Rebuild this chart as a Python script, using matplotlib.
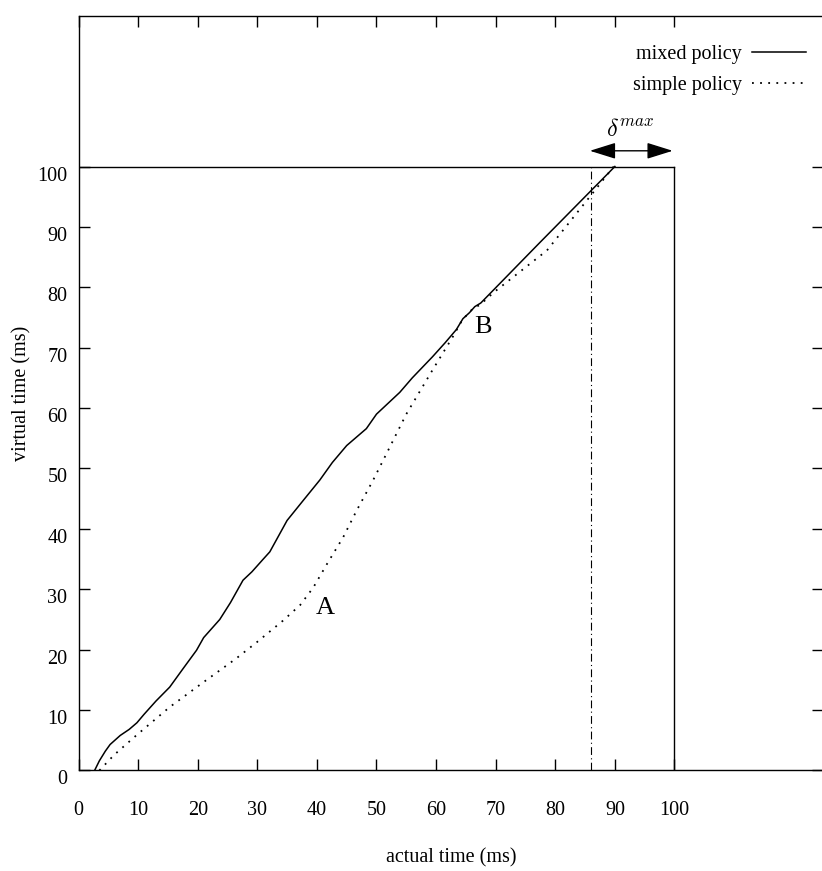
import matplotlib
matplotlib.use("Agg")
import matplotlib.pyplot as plt
from matplotlib.transforms import ScaledTranslation

plt.rcParams['font.family'] = ['Liberation Serif', 'DejaVu Serif']
plt.rcParams['mathtext.fontset'] = 'cm'

# ---- data ----
mixed_x = [2.7, 3.5, 4.5, 5.3, 7.0, 8.5, 9.8, 11.0, 13.0, 15.3, 17.5, 19.8, 21.0,
           23.7, 25.5, 27.6, 29.1, 31.0, 32.1, 35.0, 37.7, 40.5, 42.6, 45.0, 48.3,
           50.0, 53.9, 56.0, 59.4, 61.5, 63.4, 64.5, 65.6, 66.5, 67.5, 77.4, 86.0, 90.0]
mixed_y = [0.0, 1.6, 3.2, 4.3, 5.8, 6.8, 7.9, 9.3, 11.5, 13.8, 16.8, 19.9, 22.0,
           25.0, 27.8, 31.5, 32.9, 35.0, 36.2, 41.4, 44.7, 48.1, 51.0, 53.8, 56.6,
           59.0, 62.6, 65.0, 68.5, 70.8, 73.0, 74.8, 75.8, 76.8, 77.4, 87.4, 96.0, 100.0]

simple_x = [3.5, 6.0, 9.8, 15.3, 20.8, 26.4, 30.0, 34.3, 37.2, 39.4, 41.7, 44.4,
            46.7, 49.4, 51.7, 55.0, 59.4, 62.8, 64.4, 66.0, 67.5, 69.6, 78.6, 86.2, 89.8]
simple_y = [0.0, 2.6, 5.9, 10.5, 14.5, 18.5, 21.3, 24.8, 27.4, 30.3, 34.2, 38.6,
            43.1, 48.0, 52.5, 59.0, 66.3, 71.8, 74.6, 76.3, 77.2, 79.1, 86.1, 95.5, 100.0]

deadline = 100
delta_x = 86
x_ticks = list(range(0, 101, 10))
y_ticks = list(range(0, 101, 10))

# ---- figure ----
fig = plt.figure(figsize=(8.22, 8.71), dpi=100)
ax = fig.add_axes([0.0955, 0.1154, 0.9063, 0.8668])
ax.set_xlim(0, 125)
ax.set_ylim(0, 125)

ax.plot(mixed_x, mixed_y, color='black', lw=1.1, label='mixed policy')
ax.plot(simple_x, simple_y, color='black', lw=1.3, linestyle=(0, (1, 3.5)),
        label='simple policy')

# deadline box
ax.plot([0, deadline], [deadline, deadline], color='black', lw=1.0)
ax.plot([deadline, deadline], [0, deadline], color='black', lw=1.0)
ax.plot([delta_x, delta_x], [0, deadline], color='black', lw=0.8,
        linestyle=(0, (7, 3, 1, 3)))

# delta max arrow
ax.annotate('', xy=(99.7, 102.6), xytext=(85.8, 102.6),
            arrowprops=dict(arrowstyle='<|-|>,head_length=0.8,head_width=0.25',
                            color='black', lw=1.0, mutation_scale=20,
                            shrinkA=0, shrinkB=0))
ax.text(92.6, 106.0, r'$\delta^{max}$', fontsize=17.5, ha='center', va='center')

ax.text(41.4, 26.9, 'A', fontsize=19, ha='center', va='center')
ax.text(67.9, 73.4, 'B', fontsize=19, ha='center', va='center')

ax.set_xticks(x_ticks)
ax.set_yticks(y_ticks)
ax.tick_params(axis='both', direction='in', length=8, width=1.0,
               top=True, right=True, labelsize=14.5)
ax.tick_params(axis='x', pad=22)
ax.tick_params(axis='y', pad=8)
for sp in ax.spines.values():
    sp.set_linewidth(1.0)

off = ScaledTranslation(0, -0.07, fig.dpi_scale_trans)
for lab in ax.get_yticklabels():
    lab.set_transform(lab.get_transform() + off)

ax.set_xlabel('actual time (ms)', fontsize=14.5, labelpad=20)
ax.set_ylabel('virtual time (ms)', fontsize=14.5, labelpad=4.5)

ax.legend(loc='upper right', bbox_to_anchor=(0.9765, 0.961), frameon=False,
          markerfirst=False, fontsize=14.5, handlelength=2.7, handletextpad=0.5,
          borderpad=0, borderaxespad=0, labelspacing=0.6)

fig.savefig('out.png', dpi=100)
